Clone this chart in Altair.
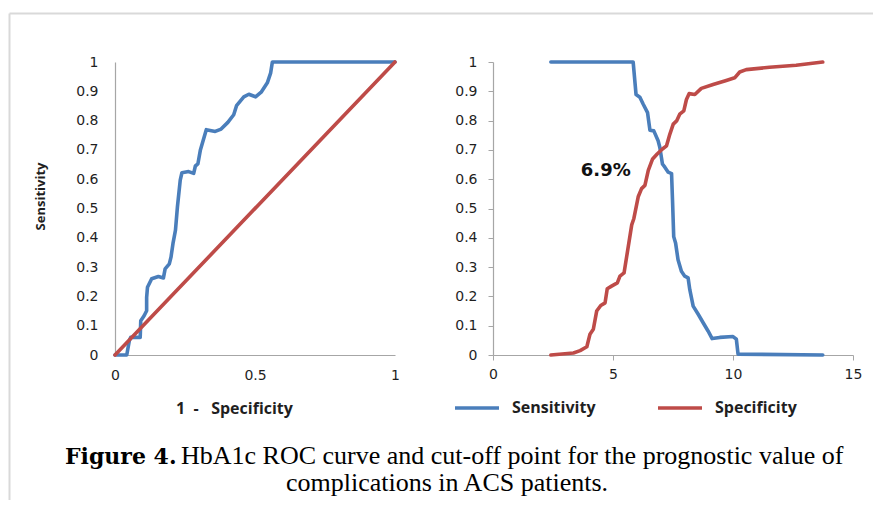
import altair as alt
import pandas as pd

BLUE = "#4A7EBB"
RED = "#BE4B48"
INK = "#1f1f1f"

# ---- Left panel: ROC curve ----
roc_fpr = [0, 0.042, 0.051, 0.056, 0.09, 0.092, 0.104, 0.113, 0.113, 0.116, 0.131, 0.155,
           0.173, 0.179, 0.194, 0.2, 0.207, 0.216, 0.223, 0.233, 0.239, 0.263, 0.281, 0.287,
           0.296, 0.305, 0.326, 0.358, 0.379, 0.403, 0.424, 0.434, 0.46, 0.478, 0.502, 0.522,
           0.544, 0.556, 0.562, 1.0]
roc_tpr = [0, 0, 0.048, 0.06, 0.06, 0.117, 0.134, 0.151, 0.197, 0.231, 0.26, 0.268,
           0.263, 0.294, 0.311, 0.334, 0.38, 0.426, 0.506, 0.597, 0.622, 0.626, 0.62, 0.645,
           0.652, 0.7, 0.769, 0.763, 0.771, 0.794, 0.82, 0.851, 0.881, 0.89, 0.881, 0.897,
           0.929, 0.963, 1.0, 1.0]
diag_x = [0, 1]
diag_y = [0, 1]

# ---- Right panel: sensitivity / specificity vs HbA1c ----
sens_x = [2.41, 5.84, 5.96, 6.12, 6.26, 6.44, 6.54, 6.70, 6.88, 6.95, 7.06, 7.16, 7.30, 7.44,
          7.48, 7.53, 7.61, 7.71, 7.85, 7.99, 8.13, 8.20, 8.34, 8.55, 8.75, 8.96, 9.13, 9.45,
          10.0, 10.14, 10.21, 13.74]
sens_y = [1, 1, 0.889, 0.88, 0.856, 0.827, 0.767, 0.765, 0.731, 0.709, 0.652, 0.641, 0.624,
          0.619, 0.528, 0.404, 0.381, 0.325, 0.286, 0.269, 0.263, 0.223, 0.167, 0.139, 0.111,
          0.082, 0.056, 0.06, 0.063, 0.054, 0.003, 0]
spec_x = [2.41, 3.35, 3.63, 3.91, 4.04, 4.18, 4.32, 4.49, 4.67, 4.76, 4.94, 5.18, 5.29, 5.46,
          5.57, 5.78, 5.87, 6.05, 6.19, 6.33, 6.47, 6.65, 6.84, 7.06, 7.23, 7.37, 7.51, 7.65,
          7.78, 7.95, 8.06, 8.17, 8.41, 8.68, 9.17, 9.72, 10.07, 10.28, 10.55, 11.52, 12.63, 13.74]
spec_y = [0, 0.007, 0.015, 0.028, 0.071, 0.088, 0.15, 0.169, 0.178, 0.226, 0.235, 0.246,
          0.269, 0.28, 0.336, 0.444, 0.466, 0.54, 0.568, 0.579, 0.63, 0.669, 0.686, 0.703,
          0.714, 0.754, 0.788, 0.799, 0.822, 0.833, 0.872, 0.892, 0.889, 0.91, 0.923, 0.937,
          0.946, 0.966, 0.974, 0.982, 0.989, 1.0]
series_names = ["Sensitivity", "Specificity"]

cut_x = [4.70]
cut_y = [0.628]
cut_label = ["6.9%"]

y_ticks = [0, 0.1, 0.2, 0.3, 0.4, 0.5, 0.6, 0.7, 0.8, 0.9, 1]
xl_ticks = [0, 0.5, 1]
xr_ticks = [0, 5, 10, 15]

NB = "\u00a0"
x_title_left = "1" + NB * 2 + "-" + NB * 3 + "Specificity"
caption_bold = "Figure 4."
caption_line1 = "HbA1c ROC curve and cut-off point for the prognostic value of"
caption_line2 = "complications in ACS patients."

W_L, W_R, H = 280, 360, 293

# ---------------- left panel ----------------
roc_df = pd.DataFrame({"fpr": roc_fpr, "tpr": roc_tpr, "i": list(range(len(roc_fpr)))})
diag_df = pd.DataFrame({"fpr": diag_x, "tpr": diag_y, "i": [0, 1]})

xl = alt.X("fpr:Q", scale=alt.Scale(domain=[0, 1], nice=False),
           axis=alt.Axis(values=xl_ticks, format="~g", title=x_title_left,
                         ticks=False, tickSize=0, labelPadding=13, labelFlush=False,
                         titleX=119, titleY=53, titleAlign="center", titleBaseline="middle",
                         titleFontSize=16))
yl = alt.Y("tpr:Q", scale=alt.Scale(domain=[0, 1], nice=False),
           axis=alt.Axis(values=y_ticks, format="~g", title="Sensitivity",
                         ticks=False, tickSize=0, labelPadding=17,
                         titleX=-75, titleY=134, titleAngle=270, titleAlign="center",
                         titleBaseline="middle", titleFontSize=13))

roc_line = alt.Chart(roc_df).mark_line(strokeWidth=3.6, strokeJoin="round", strokeCap="round").encode(
    x=xl, y=yl, order="i:Q", color=alt.value(BLUE))
diag_line = alt.Chart(diag_df).mark_line(strokeWidth=3.6, strokeCap="round").encode(
    x=xl, y=yl, order="i:Q", color=alt.value(RED))

one = pd.DataFrame({"k": [0]})
border_v = alt.Chart(one).mark_rule(color="#d9d9d9", strokeWidth=2).encode(
    x=alt.value(-105.5), y=alt.value(-48.5), y2=alt.value(438))
border_h = alt.Chart(one).mark_rule(color="#d9d9d9", strokeWidth=2).encode(
    x=alt.value(-105.5), x2=alt.value(758), y=alt.value(-48.5))

cap_b = alt.Chart(pd.DataFrame({"t": [caption_bold]})).mark_text(
    font="DejaVu Serif", fontWeight="bold", fontSize=22, align="left", baseline="alphabetic",
    color="#000000").encode(text="t:N", x=alt.value(-50), y=alt.value(401.5))
cap_1 = alt.Chart(pd.DataFrame({"t": [caption_line1]})).mark_text(
    font="Liberation Serif", fontSize=26, align="left", baseline="alphabetic",
    color="#000000").encode(text="t:N", x=alt.value(66), y=alt.value(401.5))
cap_2 = alt.Chart(pd.DataFrame({"t": [caption_line2]})).mark_text(
    font="Liberation Serif", fontSize=26, align="center", baseline="alphabetic",
    color="#000000").encode(text="t:N", x=alt.value(332), y=alt.value(428.5))

left = alt.layer(border_v, border_h, roc_line, diag_line, cap_b, cap_1, cap_2).properties(
    width=W_L, height=H)

# ---------------- right panel ----------------
rows = []
for name, xs, ys in [("Sensitivity", sens_x, sens_y), ("Specificity", spec_x, spec_y)]:
    for j, (a, b) in enumerate(zip(xs, ys)):
        rows.append({"hba1c": a, "value": b, "series": name, "i": j})
curve_df = pd.DataFrame(rows)

xr = alt.X("hba1c:Q", scale=alt.Scale(domain=[0, 15], nice=False),
           axis=alt.Axis(values=xr_ticks, format="~g", title=None, ticks=True, tickSize=5,
                         tickColor="#a6a6a6", labelPadding=7, labelFlush=False))
yr = alt.Y("value:Q", scale=alt.Scale(domain=[0, 1], nice=False),
           axis=alt.Axis(values=y_ticks, format="~g", title=None, ticks=True, tickSize=5,
                         tickColor="#a6a6a6", labelPadding=11))

curves = alt.Chart(curve_df).mark_line(strokeWidth=3.6, strokeJoin="round", strokeCap="round").encode(
    x=xr, y=yr, order="i:Q",
    color=alt.Color("series:N",
                    scale=alt.Scale(domain=series_names, range=[BLUE, RED]),
                    legend=alt.Legend(title=None, orient="none", legendX=-40, legendY=322,
                                      direction="horizontal", symbolType="stroke",
                                      symbolSize=1936, symbolStrokeWidth=3.5,
                                      labelFont="Open Sans", labelFontSize=16,
                                      labelFontWeight="bold", labelColor=INK,
                                      labelOffset=11, columnPadding=55, padding=0)))

cut_df = pd.DataFrame({"hba1c": cut_x, "value": cut_y, "label": cut_label})
cut_text = alt.Chart(cut_df).mark_text(font="DejaVu Sans", fontWeight="bold", fontSize=18,
                                       align="center", baseline="middle", color="#111111").encode(
    x=xr, y=yr, text="label:N")

right = alt.layer(curves, cut_text).properties(width=W_R, height=H)

chart = alt.hconcat(left, right, spacing=98, bounds="flush").resolve_scale(
    color="independent").resolve_legend(color="independent").properties(
    padding={"left": 0, "top": 4, "right": 0, "bottom": 0},
    background="white",
).configure_axis(
    domainColor="#a6a6a6", domainWidth=1.2, grid=False,
    labelFont="DejaVu Sans", labelFontSize=14, labelColor=INK,
    titleFont="Open Sans", titleFontWeight="bold", titleColor=INK,
).configure_view(strokeWidth=0)

chart.save("out.html", embed_options={"renderer": "svg", "actions": False})
